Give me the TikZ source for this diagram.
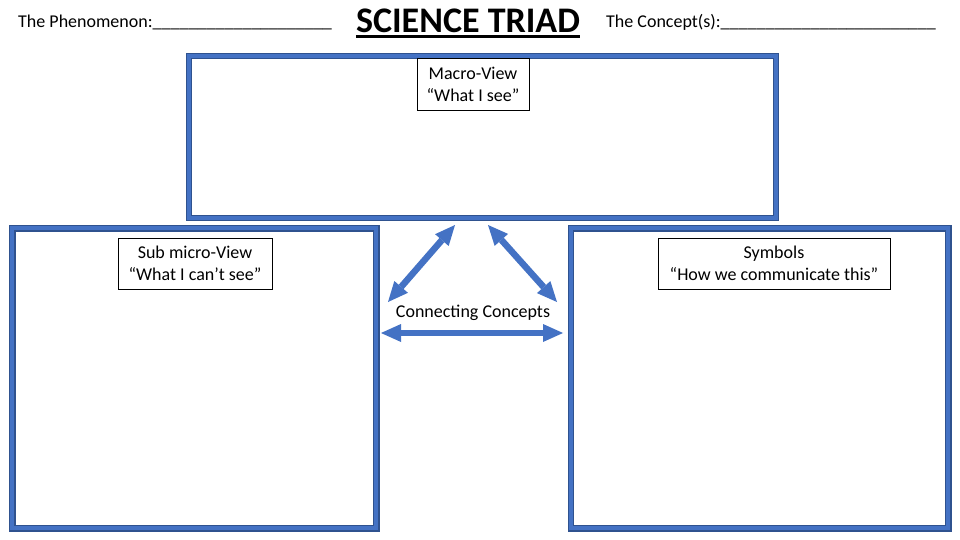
\documentclass[tikz,border=0pt]{standalone}
\usepackage{fontspec}
\setmainfont{Carlito}
\usetikzlibrary{arrows.meta}
\definecolor{triblue}{HTML}{4472C4}
\definecolor{triedge}{HTML}{2F528F}
\begin{document}
\begin{tikzpicture}[x=1pt,y=-1pt,
	panel/.style={draw=triedge,line width=1.1pt,double=triblue,double distance=4.2pt},
	tag/.style={draw=black,line width=0.9pt,fill=white,align=center,inner sep=0pt,font=\fontsize{18}{22}\selectfont},
	head/.style={anchor=base west,inner sep=0pt,font=\fontsize{18}{22}\selectfont},
	link/.style={triblue,line width=6.5pt,{Triangle[width=18pt,length=20pt,line width=0pt]}-{Triangle[width=18pt,length=20pt,line width=0pt]}}]
	\useasboundingbox (0,0) rectangle (960,540);
	\fill[white] (0,0) rectangle (960,540);
	% header line
	\node[head] (phen) at (18,28) {The Phenomenon:\_\_\_\_\_\_\_\_\_\_\_\_\_\_\_\_\_\_\_\_};
	\node[anchor=base,inner sep=0pt,font=\fontsize{36}{40}\selectfont\bfseries] (triad) at (468,33) {SCIENCE TRIAD};
	\draw[line width=2.4pt] ([yshift=-3.5pt]triad.base west) -- ([yshift=-3.5pt]triad.base east);
	\node[head] (conc) at (606,28) {The Concept(s):\_\_\_\_\_\_\_\_\_\_\_\_\_\_\_\_\_\_\_\_\_\_\_\_};
	% the three panels
	\draw[panel] (188.8,56) rectangle (775.8,217.7);
	\draw[panel] (12.3,228.3) rectangle (376.3,528.3);
	\draw[panel] (570.7,228.3) rectangle (948.3,528.3);
	\node[tag,minimum width=112pt,minimum height=52pt] (macro) at (473,84) {Macro-View\\“What I see”};
	\node[tag,minimum width=154pt,minimum height=51pt] (micro) at (195,263.5) {Sub micro-View\\“What I can’t see”};
	\node[tag,minimum width=232pt,minimum height=51pt] (symb) at (774,263.5) {Symbols\\“How we communicate this”};
	% arrows between the views
	\coordinate (ml) at (455,225);
	\coordinate (sl) at (388,302);
	\coordinate (mr) at (488,225);
	\coordinate (sr) at (557,302);
	\coordinate (cl) at (381,333);
	\coordinate (cr) at (563,333);
	\draw[link] (ml) -- (sl);
	\draw[link] (mr) -- (sr);
	\draw[link] (cl) -- (cr);
	\node[anchor=base,inner sep=0pt,font=\fontsize{18}{22}\selectfont] (cc) at (473,317) {Connecting Concepts};
\end{tikzpicture}
\end{document}
